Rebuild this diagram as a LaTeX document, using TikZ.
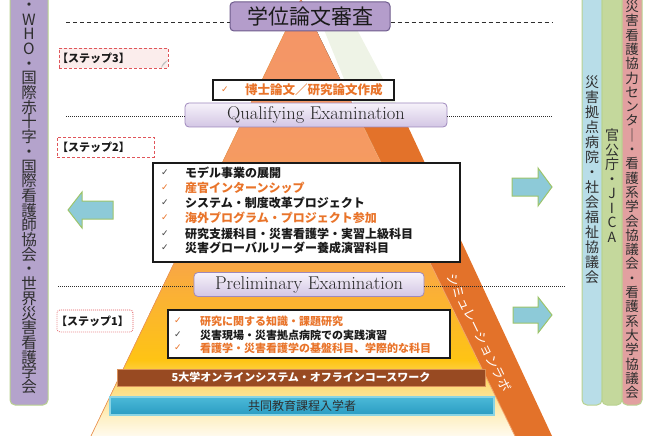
\documentclass[tikz,border=0pt]{standalone}
\usepackage{fontspec}
\newfontfamily\jp{Noto Sans CJK JP}
\newfontfamily\dv{DejaVu Sans}
\ExplSyntaxOn
\NewDocumentCommand\vtext{mm}{
  \vbox{
    \skip_set:Nn \baselineskip {#1}
    \dim_set:Nn \lineskiplimit {-100pt}
    \tl_map_inline:nn {#2} { \hbox_to_wd:nn {1.2em} { \hss ##1 \hss } }
  }
}
\ExplSyntaxOff
\definecolor{lbar}{HTML}{B4A3CC}
\definecolor{barborder}{HTML}{B9D28F}
\definecolor{bluebar}{HTML}{B8DDE8}
\definecolor{greenbar}{HTML}{C4D89C}
\definecolor{pinkbar}{HTML}{E2A0A0}
\definecolor{orangetxt}{HTML}{E9742A}
\definecolor{txtblack}{HTML}{1A1A1A}
\definecolor{txtdark}{HTML}{2E2E2E}
\definecolor{extxt}{HTML}{262626}
\definecolor{ckgray}{HTML}{444444}
\definecolor{titlefill}{HTML}{B49DCB}
\definecolor{titleborder}{HTML}{6E5B8C}
\definecolor{exborder}{HTML}{9E88BC}
\definecolor{exlight}{HTML}{F6F2FA}
\definecolor{exdark}{HTML}{D3C6E4}
\definecolor{bandc}{HTML}{E3722A}
\definecolor{bandedge}{HTML}{F6A46A}
\definecolor{pale}{HTML}{EEF3E6}
\definecolor{brownc}{HTML}{984A22}
\definecolor{brownedge}{HTML}{D9905A}
\definecolor{tealtop}{HTML}{4BB9D8}
\definecolor{tealbot}{HTML}{2A9CC2}
\definecolor{tealedge}{HTML}{8AD4E4}
\definecolor{arrowfill}{HTML}{8DCAD8}
\definecolor{arrowedge}{HTML}{9DC46A}
\definecolor{stepred}{HTML}{E0555A}
\definecolor{steppink}{HTML}{FBEDEC}
\definecolor{pyedge}{HTML}{F29A55}
\definecolor{pya}{HTML}{F49468}
\definecolor{pyb}{HTML}{F59A62}
\definecolor{pyc}{HTML}{F8A24C}
\definecolor{pyd}{HTML}{FBB332}
\definecolor{pye}{HTML}{FEC414}
\definecolor{pyf}{HTML}{FDDC7A}
\definecolor{pyg}{HTML}{FEEFC0}
\definecolor{pyh}{HTML}{FFFBF0}
\tikzset{
  barstyle/.style={draw=barborder, line width=1pt, rounded corners=5pt},
  vlabel/.style={inner sep=0, text=txtdark},
  exbox/.style={draw=exborder, line width=0.8pt, rounded corners=4pt, top color=exlight, bottom color=exdark, inner sep=0, font=\fontsize{18.5}{18.5}\selectfont, text=extxt},
  whitebox/.style={draw=txtblack, fill=white, inner sep=0},
  chk/.style={inner sep=0, font=\dv\fontsize{9}{9}\selectfont, text=#1},
  itemtxt/.style={inner sep=0, anchor=west, font=\jp\bfseries\fontsize{12}{12}\selectfont, text=#1},
  itemsm/.style={inner sep=0, anchor=west, font=\jp\bfseries\fontsize{11}{11}\selectfont, text=#1},
  steptxt/.style={inner sep=0, anchor=west, font=\jp\bfseries\fontsize{11}{11}\selectfont, text=txtblack},
  dashline/.style={draw=txtdark, line width=0.8pt, dash pattern=on 4pt off 3pt},
  dotline/.style={draw=txtdark, line width=0.8pt, dash pattern=on 0.8pt off 1.2pt},
  arrowshape/.style={fill=arrowfill, draw=arrowedge, line width=1pt, line join=miter},
}
\begin{document}
\begin{tikzpicture}[x=1pt,y=-1pt]
\useasboundingbox (0,0) rectangle (654,436);
% side bars
\draw[barstyle, fill=lbar] (10,-20) rectangle (48,405);
\begin{scope}
\clip (10,0) rectangle (48,405);
\node[vlabel, anchor=south, font=\jp\fontsize{15.5}{15.5}\selectfont] (lefttext) at (29,394) {\vtext{14.7pt}{国連・WHO・国際赤十字・国際看護師協会・世界災害看護学会}};
\end{scope}
\draw[barstyle, fill=bluebar] (582,-20) rectangle (602,405);
\draw[barstyle, fill=greenbar] (602,-20) rectangle (622,405);
\draw[barstyle, fill=pinkbar] (622,-20) rectangle (642,405);
\node[vlabel, anchor=north, font=\jp\fontsize{14}{14}\selectfont] (bluetext) at (592,76) {\vtext{15pt}{災害拠点病院・社会福祉協議会}};
\node[vlabel, anchor=north, font=\jp\fontsize{14}{14}\selectfont] (greentext) at (612,129) {\vtext{14.5pt}{官公庁・JICA}};
\node[vlabel, anchor=north, font=\jp\fontsize{13.5}{13.5}\selectfont] (pinktext) at (632,0) {\vtext{14.3pt}{災害看護協力センタ｜・看護系学会協議会・看護系大学協議会}};
% pyramid
\fill[pale] (320,20) -- (352,20) -- (409,128) -- (364,128) -- cycle;
\fill[bandc] (359,118) -- (404,118) -- (552,436) -- (515,436) -- cycle;
\begin{scope}
\clip (301,-1) -- (91,436) -- (515,436) -- cycle;
\fill[top color=pya, bottom color=pyb] (80,-2) rectangle (530,150.5);
\fill[top color=pyb, bottom color=pyc] (80,150) rectangle (530,250.5);
\fill[top color=pyc, bottom color=pyd] (80,250) rectangle (530,300.5);
\fill[top color=pyd, bottom color=pye] (80,300) rectangle (530,360.5);
\fill[top color=pye, bottom color=pyf] (80,360) rectangle (530,385.5);
\fill[top color=pyf, bottom color=pyg] (80,385) rectangle (530,415.5);
\fill[top color=pyg, bottom color=pyh] (80,415) rectangle (530,437);
\end{scope}
\draw[pyedge, line width=0.7pt] (301,-1) -- (91,436);
\draw[bandedge, line width=0.8pt] (364,128) -- (515,436);
\node[rotate=-64, inner sep=0, font=\jp\fontsize{13}{13}\selectfont, text=white] (labo) at (479,333) {シミュレーションラボ};
% arrows
\draw[arrowshape] (113,201) -- (82,201) -- (82,192) -- (68,210) -- (82,228) -- (82,219) -- (113,219) -- cycle;
\draw[arrowshape] (512,178) -- (538,178) -- (538,168) -- (552,187) -- (538,206) -- (538,196) -- (512,196) -- cycle;
\draw[arrowshape] (513,307) -- (538,307) -- (538,297) -- (552,315) -- (538,333) -- (538,323) -- (513,323) -- cycle;
% title
\node[draw=titleborder, fill=titlefill, line width=1pt, rounded corners=4pt, minimum width=160pt, minimum height=29pt, inner sep=0, font=\jp\fontsize{21}{21}\selectfont, text=txtblack] (title) at (310,16.5) {学位論文審査};
\coordinate (dl) at (66,22);
\coordinate (dr) at (552,22);
\draw[dashline] (dl) -- (dl -| title.west);
\draw[dashline] (dr -| title.east) -- (dr);
% step 3
\node[draw=stepred, fill=steppink, line width=0.8pt, dash pattern=on 3pt off 2pt, minimum width=109pt, minimum height=20pt, inner sep=0] (s3lab) at (113.5,58) {};
\fill[gray!50] (168,60) -- (161,68) .. controls (162,64) and (164,62) .. cycle;
\node[steptxt] (s3txt) at (57,58) {【ステップ3】};
% doctor box
\node[whitebox, line width=1.8pt, minimum width=181pt, minimum height=20pt] (docbox) at (303.5,90) {};
\node[chk=orangetxt] (dck) at (225,90) {✓};
\node[itemtxt=orangetxt, font=\jp\bfseries\fontsize{12.5}{12.5}\selectfont] (doctxt) at (245,90) {博士論文／研究論文作成};
% qualifying
\node[exbox, minimum width=262pt, minimum height=24pt] (qual) at (316,115) {Qualifying Examination};
\coordinate (ql) at (66,116);
\coordinate (qr) at (552,116);
\draw[dotline] (ql) -- (ql -| qual.west);
\draw[dotline] (qr -| qual.east) -- (qr);
% step 2
\node[draw=stepred, fill=white, line width=0.8pt, dash pattern=on 3pt off 2pt, minimum width=97pt, minimum height=20pt, inner sep=0] (s2lab) at (105.5,147) {};
\node[steptxt] (s2txt) at (57,147) {【ステップ2】};
\node[whitebox, line width=2pt, minimum width=307pt, minimum height=99pt] (s2box) at (306.5,212.5) {};
\node[chk=ckgray] (k1) at (165,173) {✓};
\node[itemtxt=txtblack] (i1) at (185,173) {モデル事業の展開};
\node[chk=orangetxt] (k2) at (165,188) {✓};
\node[itemtxt=orangetxt] (i2) at (185,188) {産官インターンシップ};
\node[chk=ckgray] (k3) at (165,203) {✓};
\node[itemtxt=txtblack] (i3) at (185,203) {システム・制度改革プロジェクト};
\node[chk=orangetxt] (k4) at (165,218) {✓};
\node[itemtxt=orangetxt] (i4) at (185,218) {海外プログラム・プロジェクト参加};
\node[chk=ckgray] (k5) at (165,234) {✓};
\node[itemtxt=txtblack] (i5) at (185,234) {研究支援科目・災害看護学・実習上級科目};
\node[chk=ckgray] (k6) at (165,248) {✓};
\node[itemtxt=txtblack] (i6) at (185,248) {災害グローバルリーダー養成演習科目};
% preliminary
\node[exbox, minimum width=230pt, minimum height=24pt] (prelim) at (309,284.5) {Preliminary Examination};
\coordinate (pl) at (58,286);
\coordinate (pr) at (565,286);
\draw[dotline] (pl) -- (pl -| prelim.west);
\draw[dotline] (pr -| prelim.east) -- (pr);
% step 1
\node[draw=stepred, fill=white, line width=0.8pt, dash pattern=on 0.8pt off 1.2pt, rounded corners=3pt, minimum width=76pt, minimum height=22pt, inner sep=0] (s1lab) at (95,321) {};
\node[steptxt] (s1txt) at (56,321) {【ステップ1】};
\node[whitebox, line width=1.5pt, minimum width=282pt, minimum height=48pt] (s1box) at (309,334) {};
\node[chk=orangetxt] (m1) at (178,321) {✓};
\node[itemsm=orangetxt] (j1) at (200,321) {研究に関する知識・課題研究};
\node[chk=ckgray] (m2) at (178,335) {✓};
\node[itemsm=txtblack] (j2) at (200,335) {災害現場・災害拠点病院での実践演習};
\node[chk=orangetxt] (m3) at (178,348) {✓};
\node[itemsm=orangetxt] (j3) at (200,348) {看護学・災害看護学の基盤科目、学際的な科目};
% bottom bands
\node[fill=brownc, draw=brownedge, line width=1pt, minimum width=368pt, minimum height=17pt, inner sep=0, font=\jp\bfseries\fontsize{11}{11}\selectfont, text=white] (online) at (301,377.5) {5大学オンラインシステム・オフラインコースワーク};
\node[top color=tealtop, bottom color=tealbot, draw=tealedge, line width=1.5pt, minimum width=384pt, minimum height=18pt, inner sep=0, font=\jp\fontsize{12}{12}\selectfont, text=txtdark] (entry) at (302,406) {共同教育課程入学者};
\end{tikzpicture}
\end{document}
